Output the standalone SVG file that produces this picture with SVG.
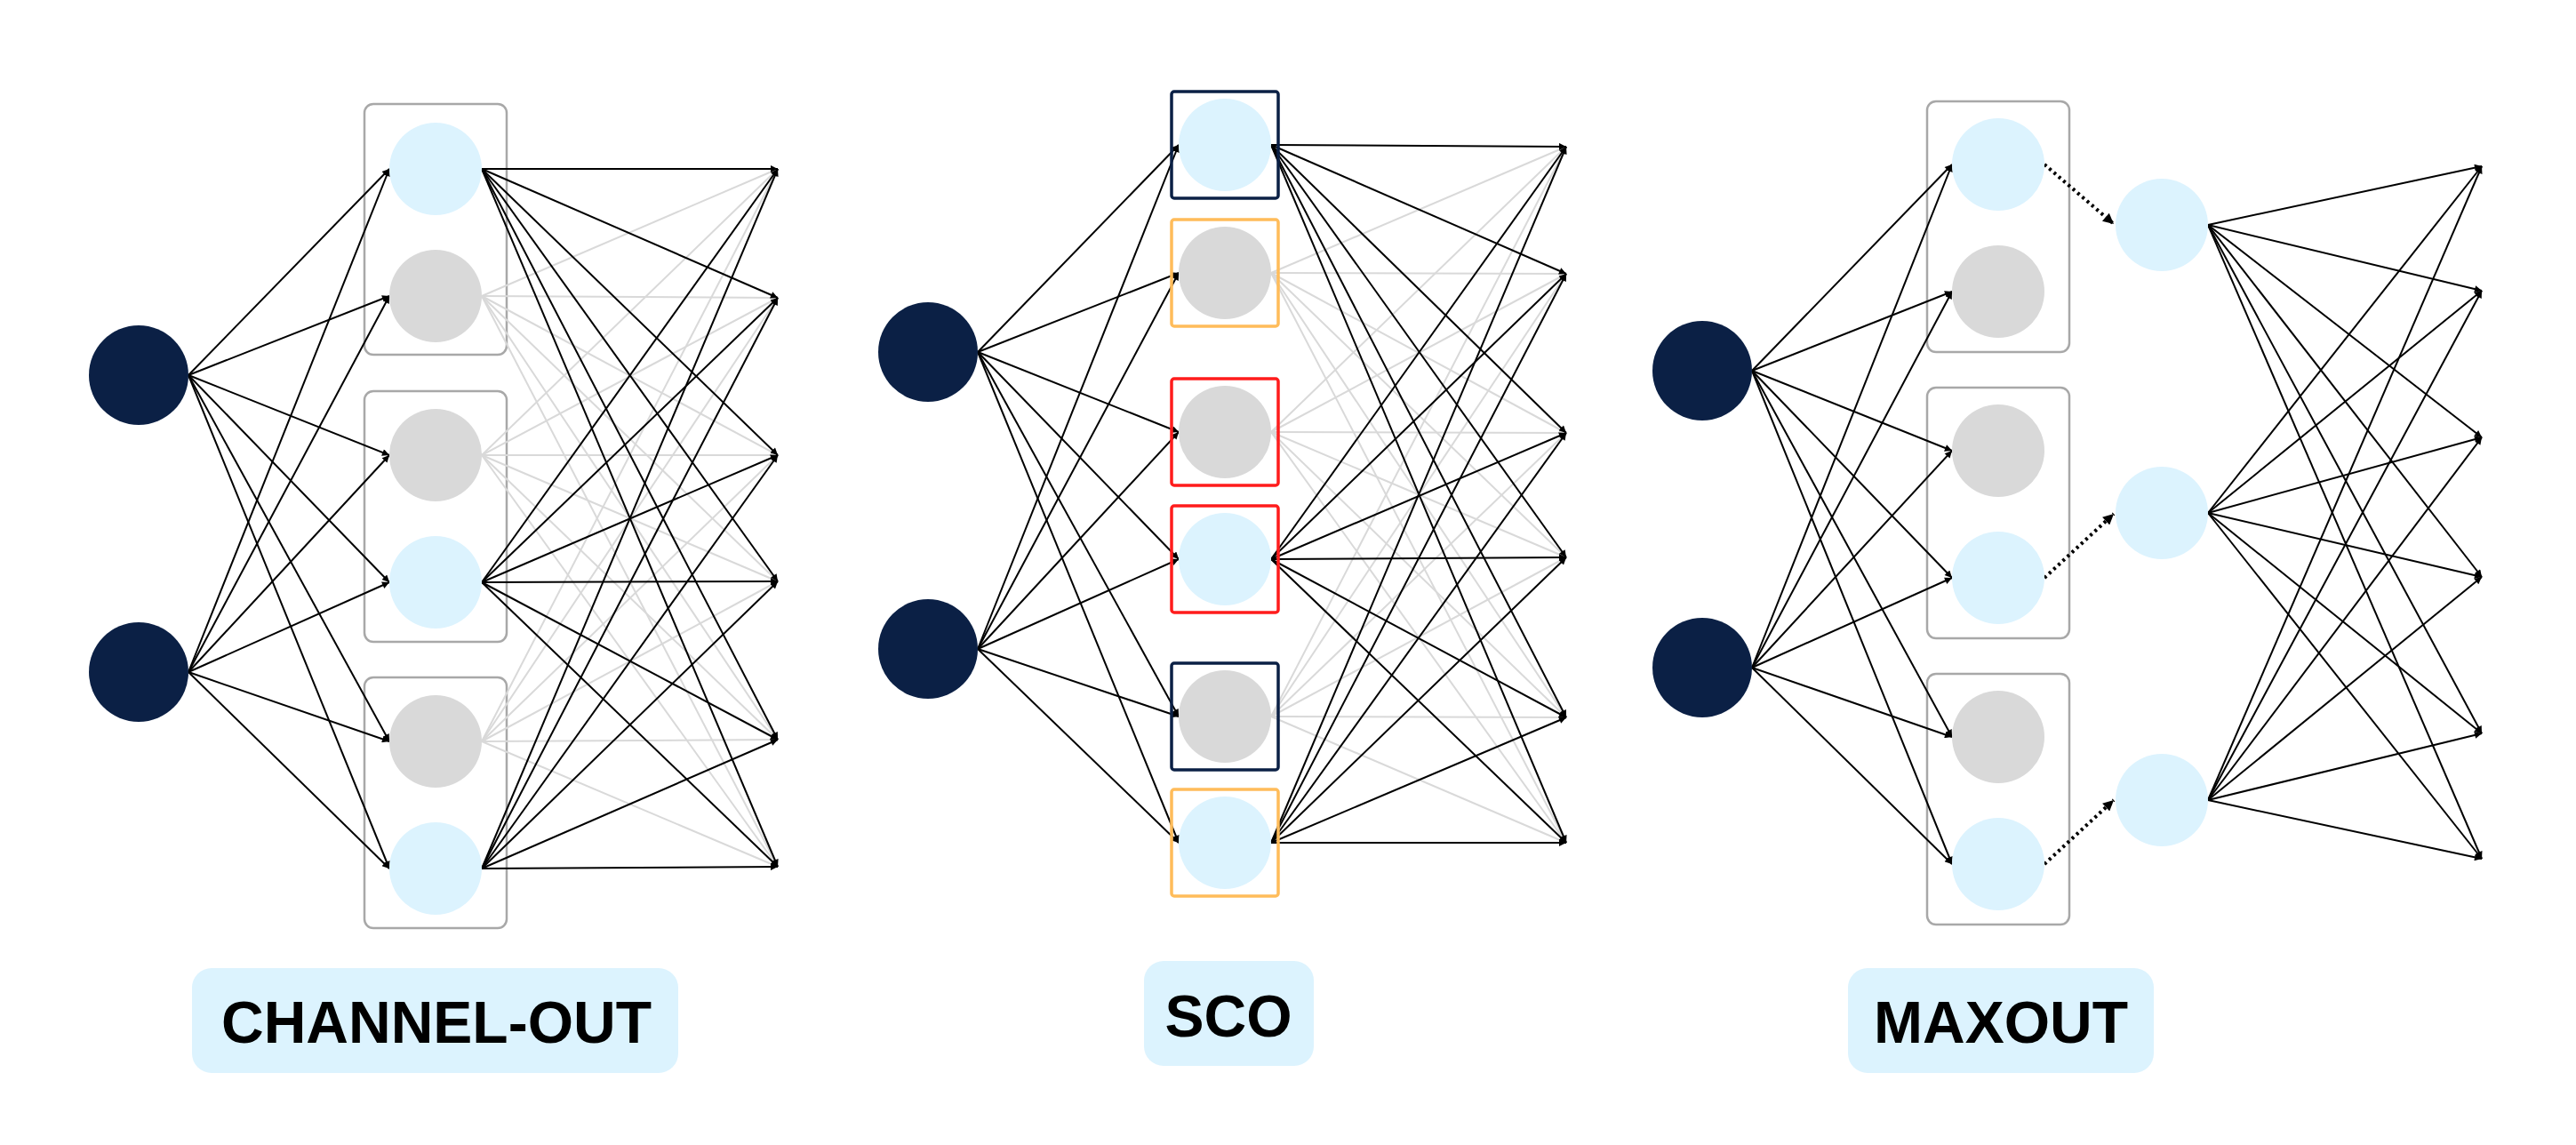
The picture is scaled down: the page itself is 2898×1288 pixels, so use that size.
<svg xmlns="http://www.w3.org/2000/svg" width="2898" height="1288" viewBox="0 0 2898 1288">
<style>
.inp{fill:#0b2045}
.act{fill:#dcf3fe}
.off{fill:#d9d9d9}
.grp{fill:none;stroke:#a8a8a8;stroke-width:2.5}
.sb{fill:none;stroke-width:3.5}
.nv{stroke:#0b2045}
.og{stroke:#ffbc5a}
.rd{stroke:#ff1c1c}
.k{stroke:#000;stroke-width:2;marker-end:url(#ah)}
.g{stroke:#d9d9d9;stroke-width:2;marker-end:url(#ahg)}
.dot{stroke:#000;stroke-width:4;stroke-dasharray:3 4;fill:none;marker-end:url(#ahd)}
.lbl{fill:#dcf3fe}
.txt{font-family:"Liberation Sans",Arial,sans-serif;font-weight:bold;font-size:66px;fill:#000;text-anchor:middle}
</style>
<defs>
<marker id="ah" viewBox="0 0 10 10" refX="10" refY="5" markerWidth="10" markerHeight="8" markerUnits="userSpaceOnUse" orient="auto"><path d="M0,0 L10,5 L0,10 z" fill="#000"/></marker>
<marker id="ahg" viewBox="0 0 10 10" refX="10" refY="5" markerWidth="10" markerHeight="8" markerUnits="userSpaceOnUse" orient="auto"><path d="M0,0 L10,5 L0,10 z" fill="#d9d9d9"/></marker>
<marker id="ahd" viewBox="0 0 10 10" refX="10" refY="5" markerWidth="14" markerHeight="12" markerUnits="userSpaceOnUse" orient="auto"><path d="M0,0 L10,5 L0,10 z" fill="#000"/></marker>
</defs>
<rect width="2898" height="1288" fill="#fff"/>

<!-- Panel 1 group boxes -->
<g id="co-box1"><rect class="grp" x="410" y="117" width="160" height="282" rx="10"/></g>
<g id="co-box2"><rect class="grp" x="410" y="440" width="160" height="282" rx="10"/></g>
<g id="co-box3"><rect class="grp" x="410" y="762" width="160" height="282" rx="10"/></g>

<!-- Panel 3 group boxes -->
<g id="mx-box1"><rect class="grp" x="2168" y="114" width="160" height="282" rx="10"/></g>
<g id="mx-box2"><rect class="grp" x="2168" y="436" width="160" height="282" rx="10"/></g>
<g id="mx-box3"><rect class="grp" x="2168" y="758" width="160" height="282" rx="10"/></g>

<g id="connectors">
<g id="co-edges">
<line class="g" x1="542" y1="333" x2="875" y2="190"/><line class="g" x1="542" y1="333" x2="875" y2="335"/><line class="g" x1="542" y1="333" x2="875" y2="512"/><line class="g" x1="542" y1="333" x2="875" y2="654"/><line class="g" x1="542" y1="333" x2="875" y2="832"/><line class="g" x1="542" y1="333" x2="875" y2="975"/>
<line class="g" x1="542" y1="512" x2="875" y2="190"/><line class="g" x1="542" y1="512" x2="875" y2="335"/><line class="g" x1="542" y1="512" x2="875" y2="512"/><line class="g" x1="542" y1="512" x2="875" y2="654"/><line class="g" x1="542" y1="512" x2="875" y2="832"/><line class="g" x1="542" y1="512" x2="875" y2="975"/>
<line class="g" x1="542" y1="834" x2="875" y2="190"/><line class="g" x1="542" y1="834" x2="875" y2="335"/><line class="g" x1="542" y1="834" x2="875" y2="512"/><line class="g" x1="542" y1="834" x2="875" y2="654"/><line class="g" x1="542" y1="834" x2="875" y2="832"/><line class="g" x1="542" y1="834" x2="875" y2="975"/>
<line class="k" x1="212" y1="422" x2="438" y2="190"/><line class="k" x1="212" y1="422" x2="438" y2="333"/><line class="k" x1="212" y1="422" x2="438" y2="512"/><line class="k" x1="212" y1="422" x2="438" y2="655"/><line class="k" x1="212" y1="422" x2="438" y2="834"/><line class="k" x1="212" y1="422" x2="438" y2="977"/>
<line class="k" x1="212" y1="756" x2="438" y2="190"/><line class="k" x1="212" y1="756" x2="438" y2="333"/><line class="k" x1="212" y1="756" x2="438" y2="512"/><line class="k" x1="212" y1="756" x2="438" y2="655"/><line class="k" x1="212" y1="756" x2="438" y2="834"/><line class="k" x1="212" y1="756" x2="438" y2="977"/>
<line class="k" x1="542" y1="190" x2="875" y2="190"/><line class="k" x1="542" y1="190" x2="875" y2="335"/><line class="k" x1="542" y1="190" x2="875" y2="512"/><line class="k" x1="542" y1="190" x2="875" y2="654"/><line class="k" x1="542" y1="190" x2="875" y2="832"/><line class="k" x1="542" y1="190" x2="875" y2="975"/>
<line class="k" x1="542" y1="655" x2="875" y2="190"/><line class="k" x1="542" y1="655" x2="875" y2="335"/><line class="k" x1="542" y1="655" x2="875" y2="512"/><line class="k" x1="542" y1="655" x2="875" y2="654"/><line class="k" x1="542" y1="655" x2="875" y2="832"/><line class="k" x1="542" y1="655" x2="875" y2="975"/>
<line class="k" x1="542" y1="977" x2="875" y2="190"/><line class="k" x1="542" y1="977" x2="875" y2="335"/><line class="k" x1="542" y1="977" x2="875" y2="512"/><line class="k" x1="542" y1="977" x2="875" y2="654"/><line class="k" x1="542" y1="977" x2="875" y2="832"/><line class="k" x1="542" y1="977" x2="875" y2="975"/>
</g>
<g id="sco-edges">
<line class="g" x1="1430" y1="307" x2="1762" y2="165"/><line class="g" x1="1430" y1="307" x2="1762" y2="308"/><line class="g" x1="1430" y1="307" x2="1762" y2="487"/><line class="g" x1="1430" y1="307" x2="1762" y2="627"/><line class="g" x1="1430" y1="307" x2="1762" y2="807"/><line class="g" x1="1430" y1="307" x2="1762" y2="948"/>
<line class="g" x1="1430" y1="486" x2="1762" y2="165"/><line class="g" x1="1430" y1="486" x2="1762" y2="308"/><line class="g" x1="1430" y1="486" x2="1762" y2="487"/><line class="g" x1="1430" y1="486" x2="1762" y2="627"/><line class="g" x1="1430" y1="486" x2="1762" y2="807"/><line class="g" x1="1430" y1="486" x2="1762" y2="948"/>
<line class="g" x1="1430" y1="806" x2="1762" y2="165"/><line class="g" x1="1430" y1="806" x2="1762" y2="308"/><line class="g" x1="1430" y1="806" x2="1762" y2="487"/><line class="g" x1="1430" y1="806" x2="1762" y2="627"/><line class="g" x1="1430" y1="806" x2="1762" y2="807"/><line class="g" x1="1430" y1="806" x2="1762" y2="948"/>
<line class="k" x1="1100" y1="396" x2="1326" y2="163"/><line class="k" x1="1100" y1="396" x2="1326" y2="307"/><line class="k" x1="1100" y1="396" x2="1326" y2="486"/><line class="k" x1="1100" y1="396" x2="1326" y2="629"/><line class="k" x1="1100" y1="396" x2="1326" y2="806"/><line class="k" x1="1100" y1="396" x2="1326" y2="948"/>
<line class="k" x1="1100" y1="730" x2="1326" y2="163"/><line class="k" x1="1100" y1="730" x2="1326" y2="307"/><line class="k" x1="1100" y1="730" x2="1326" y2="486"/><line class="k" x1="1100" y1="730" x2="1326" y2="629"/><line class="k" x1="1100" y1="730" x2="1326" y2="806"/><line class="k" x1="1100" y1="730" x2="1326" y2="948"/>
<line class="k" x1="1430" y1="163" x2="1762" y2="165"/><line class="k" x1="1430" y1="163" x2="1762" y2="308"/><line class="k" x1="1430" y1="163" x2="1762" y2="487"/><line class="k" x1="1430" y1="163" x2="1762" y2="627"/><line class="k" x1="1430" y1="163" x2="1762" y2="807"/><line class="k" x1="1430" y1="163" x2="1762" y2="948"/>
<line class="k" x1="1430" y1="629" x2="1762" y2="165"/><line class="k" x1="1430" y1="629" x2="1762" y2="308"/><line class="k" x1="1430" y1="629" x2="1762" y2="487"/><line class="k" x1="1430" y1="629" x2="1762" y2="627"/><line class="k" x1="1430" y1="629" x2="1762" y2="807"/><line class="k" x1="1430" y1="629" x2="1762" y2="948"/>
<line class="k" x1="1430" y1="948" x2="1762" y2="165"/><line class="k" x1="1430" y1="948" x2="1762" y2="308"/><line class="k" x1="1430" y1="948" x2="1762" y2="487"/><line class="k" x1="1430" y1="948" x2="1762" y2="627"/><line class="k" x1="1430" y1="948" x2="1762" y2="807"/><line class="k" x1="1430" y1="948" x2="1762" y2="948"/>
</g>
<g id="mx-edges">
<line class="k" x1="1971" y1="417" x2="2196" y2="185"/><line class="k" x1="1971" y1="417" x2="2196" y2="328"/><line class="k" x1="1971" y1="417" x2="2196" y2="507"/><line class="k" x1="1971" y1="417" x2="2196" y2="650"/><line class="k" x1="1971" y1="417" x2="2196" y2="829"/><line class="k" x1="1971" y1="417" x2="2196" y2="972"/>
<line class="k" x1="1971" y1="751" x2="2196" y2="185"/><line class="k" x1="1971" y1="751" x2="2196" y2="328"/><line class="k" x1="1971" y1="751" x2="2196" y2="507"/><line class="k" x1="1971" y1="751" x2="2196" y2="650"/><line class="k" x1="1971" y1="751" x2="2196" y2="829"/><line class="k" x1="1971" y1="751" x2="2196" y2="972"/>
<line class="dot" x1="2300" y1="185" x2="2378" y2="252"/>
<line class="dot" x1="2300" y1="650" x2="2378" y2="578"/>
<line class="dot" x1="2300" y1="972" x2="2378" y2="900"/>
<line class="k" x1="2484" y1="253" x2="2792" y2="187"/><line class="k" x1="2484" y1="253" x2="2792" y2="327"/><line class="k" x1="2484" y1="253" x2="2792" y2="492"/><line class="k" x1="2484" y1="253" x2="2792" y2="649"/><line class="k" x1="2484" y1="253" x2="2792" y2="825"/><line class="k" x1="2484" y1="253" x2="2792" y2="966"/>
<line class="k" x1="2484" y1="577" x2="2792" y2="187"/><line class="k" x1="2484" y1="577" x2="2792" y2="327"/><line class="k" x1="2484" y1="577" x2="2792" y2="492"/><line class="k" x1="2484" y1="577" x2="2792" y2="649"/><line class="k" x1="2484" y1="577" x2="2792" y2="825"/><line class="k" x1="2484" y1="577" x2="2792" y2="966"/>
<line class="k" x1="2484" y1="900" x2="2792" y2="187"/><line class="k" x1="2484" y1="900" x2="2792" y2="327"/><line class="k" x1="2484" y1="900" x2="2792" y2="492"/><line class="k" x1="2484" y1="900" x2="2792" y2="649"/><line class="k" x1="2484" y1="900" x2="2792" y2="825"/><line class="k" x1="2484" y1="900" x2="2792" y2="966"/>
</g>
</g>

<!-- Panel 1 nodes -->
<g id="co-in1"><circle class="inp" cx="156" cy="422" r="56"/></g>
<g id="co-in2"><circle class="inp" cx="156" cy="756" r="56"/></g>
<g id="co-h1"><circle class="act" cx="490" cy="190" r="52"/></g>
<g id="co-h2"><circle class="off" cx="490" cy="333" r="52"/></g>
<g id="co-h3"><circle class="off" cx="490" cy="512" r="52"/></g>
<g id="co-h4"><circle class="act" cx="490" cy="655" r="52"/></g>
<g id="co-h5"><circle class="off" cx="490" cy="834" r="52"/></g>
<g id="co-h6"><circle class="act" cx="490" cy="977" r="52"/></g>

<!-- Panel 2 nodes -->
<g id="sco-in1"><circle class="inp" cx="1044" cy="396" r="56"/></g>
<g id="sco-in2"><circle class="inp" cx="1044" cy="730" r="56"/></g>
<g id="sco-h1"><rect class="sb nv" x="1318" y="103" width="120" height="120" rx="3"/><circle class="act" cx="1378" cy="163" r="52"/></g>
<g id="sco-h2"><rect class="sb og" x="1318" y="247" width="120" height="120" rx="3"/><circle class="off" cx="1378" cy="307" r="52"/></g>
<g id="sco-h3"><rect class="sb rd" x="1318" y="426" width="120" height="120" rx="3"/><circle class="off" cx="1378" cy="486" r="52"/></g>
<g id="sco-h4"><rect class="sb rd" x="1318" y="569" width="120" height="120" rx="3"/><circle class="act" cx="1378" cy="629" r="52"/></g>
<g id="sco-h5"><rect class="sb nv" x="1318" y="746" width="120" height="120" rx="3"/><circle class="off" cx="1378" cy="806" r="52"/></g>
<g id="sco-h6"><rect class="sb og" x="1318" y="888" width="120" height="120" rx="3"/><circle class="act" cx="1378" cy="948" r="52"/></g>

<!-- Panel 3 nodes -->
<g id="mx-in1"><circle class="inp" cx="1915" cy="417" r="56"/></g>
<g id="mx-in2"><circle class="inp" cx="1915" cy="751" r="56"/></g>
<g id="mx-h1"><circle class="act" cx="2248" cy="185" r="52"/></g>
<g id="mx-h2"><circle class="off" cx="2248" cy="328" r="52"/></g>
<g id="mx-h3"><circle class="off" cx="2248" cy="507" r="52"/></g>
<g id="mx-h4"><circle class="act" cx="2248" cy="650" r="52"/></g>
<g id="mx-h5"><circle class="off" cx="2248" cy="829" r="52"/></g>
<g id="mx-h6"><circle class="act" cx="2248" cy="972" r="52"/></g>
<g id="mx-p1"><circle class="act" cx="2432" cy="253" r="52"/></g>
<g id="mx-p2"><circle class="act" cx="2432" cy="577" r="52"/></g>
<g id="mx-p3"><circle class="act" cx="2432" cy="900" r="52"/></g>

<!-- Labels -->
<g id="label-co"><rect class="lbl" x="216" y="1089" width="547" height="118" rx="22"/><text class="txt" x="491" y="1173">CHANNEL-OUT</text></g>
<g id="label-sco"><rect class="lbl" x="1287" y="1081" width="191" height="118" rx="22"/><text class="txt" x="1382" y="1166">SCO</text></g>
<g id="label-mx"><rect class="lbl" x="2079" y="1089" width="344" height="118" rx="22"/><text class="txt" x="2251" y="1173">MAXOUT</text></g>
</svg>
